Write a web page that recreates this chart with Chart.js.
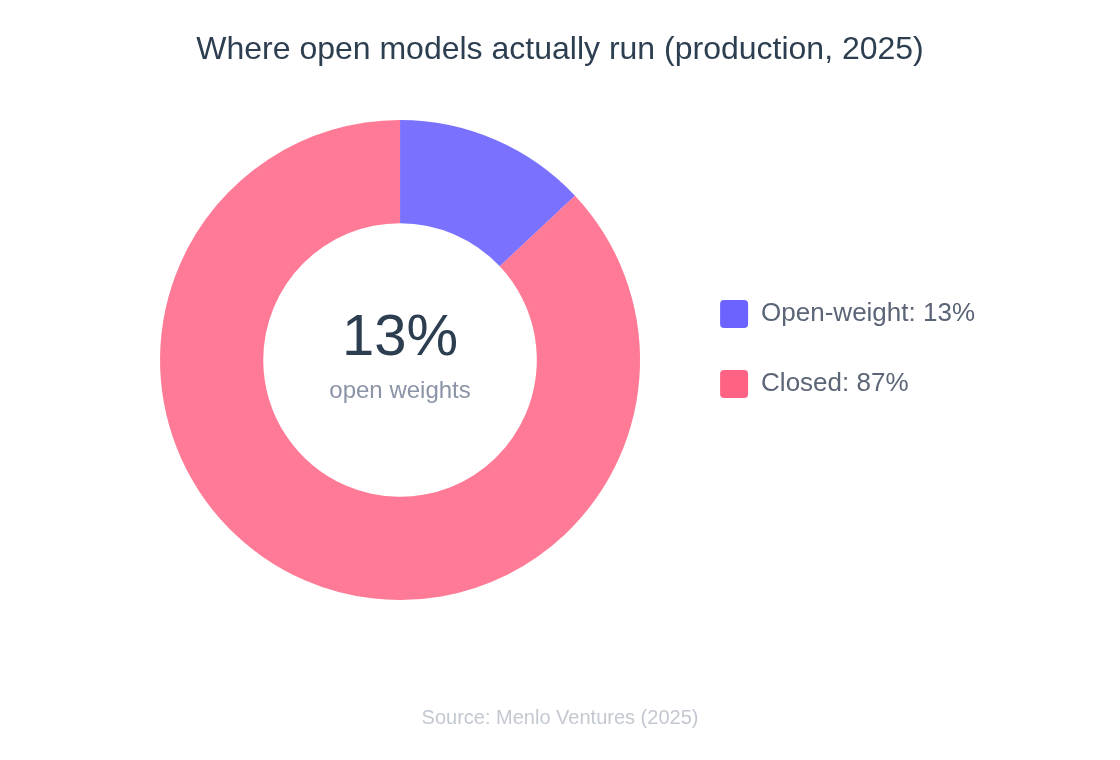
<!DOCTYPE html>
<html>
<head>
<meta charset="utf-8">
<script src="https://cdn.jsdelivr.net/npm/chart.js@4.4.1/dist/chart.umd.min.js"></script>
<style>
  html, body { margin: 0; padding: 0; background: #fff; }
  #wrap { width: 1120px; height: 760px; }
</style>
</head>
<body>
<div id="wrap"><canvas id="myChart" width="1120" height="760"></canvas></div>
<script>
const labels = ["Open-weight", "Closed"];
const shares = [13, 87];
const sliceColors = ["rgba(108, 99, 255, 0.9)", "rgba(255, 99, 132, 0.85)"];
const legendColors = ["#6C63FF", "#FF6384"];
const titleText = "Where open models actually run (production, 2025)";
const centerCaption = "open weights";
const sourceText = "Source: Menlo Ventures (2025)";

const FONT = "'Liberation Sans', Arial, Helvetica, sans-serif";

// title + source centred on the whole canvas (the built-in title box
// gets squeezed by the layout padding)
const headerFooter = {
  id: 'headerFooter',
  afterDraw(chart) {
    const ctx = chart.ctx;
    const w = chart.width;
    ctx.save();
    ctx.textAlign = 'center';
    ctx.textBaseline = 'middle';
    ctx.fillStyle = '#2c3e50';
    ctx.font = "32px " + FONT;
    ctx.fillText(titleText, w / 2, 50.5);
    ctx.fillStyle = '#c3c8d1';
    ctx.font = "20px " + FONT;
    ctx.fillText(sourceText, w / 2, 718);
    ctx.restore();
  }
};

// big number + caption in the hole
const centerText = {
  id: 'centerText',
  afterDatasetsDraw(chart) {
    const {ctx, chartArea} = chart;
    const cx = (chartArea.left + chartArea.right) / 2;
    const cy = (chartArea.top + chartArea.bottom) / 2;
    ctx.save();
    ctx.textAlign = 'center';
    ctx.textBaseline = 'alphabetic';
    ctx.fillStyle = '#2c3e50';
    ctx.font = "58px " + FONT;
    ctx.fillText(shares[0] + '%', cx, cy - 5);
    ctx.fillStyle = '#8a94a6';
    ctx.font = "24px " + FONT;
    ctx.fillText(centerCaption, cx, cy + 38);
    ctx.restore();
  }
};

function setup() {
  const ctx = document.getElementById('myChart').getContext('2d');

  let myChart = new Chart(ctx, {
    type: 'doughnut',
    data: {
      labels: labels,
      datasets: [
        {
          data: shares,
          backgroundColor: sliceColors,
          borderWidth: 0
        }
      ]
    },
    options: {
      responsive: false,
      animation: false,
      cutout: '57%',
      layout: {
        padding: { left: 122, right: 135, top: 120, bottom: 160 }
      },
      plugins: {
        title: { display: false },
        legend: {
          position: 'right',
          align: 'start',
          fullSize: false,
          // blank title only pushes the two rows down
          title: {
            display: true,
            text: ' ',
            font: { size: 10 },
            padding: { top: 126, bottom: 0 }
          },
          labels: {
            boxWidth: 28,
            boxHeight: 28,
            padding: 42,
            color: '#5b6577',
            font: { family: FONT, size: 26 },
            useBorderRadius: true,
            borderRadius: 4,
            generateLabels: function(chart) {
              return labels.map(function(l, i) {
                return {
                  text: l + ': ' + shares[i] + '%',
                  fillStyle: legendColors[i],
                  strokeStyle: legendColors[i],
                  lineWidth: 0,
                  fontColor: '#5b6577',
                  borderRadius: 4,
                  hidden: false,
                  index: i
                };
              });
            }
          }
        },
        tooltip: { enabled: false }
      }
    },
    plugins: [centerText, headerFooter]
  });
}

setup();
</script>
</body>
</html>
